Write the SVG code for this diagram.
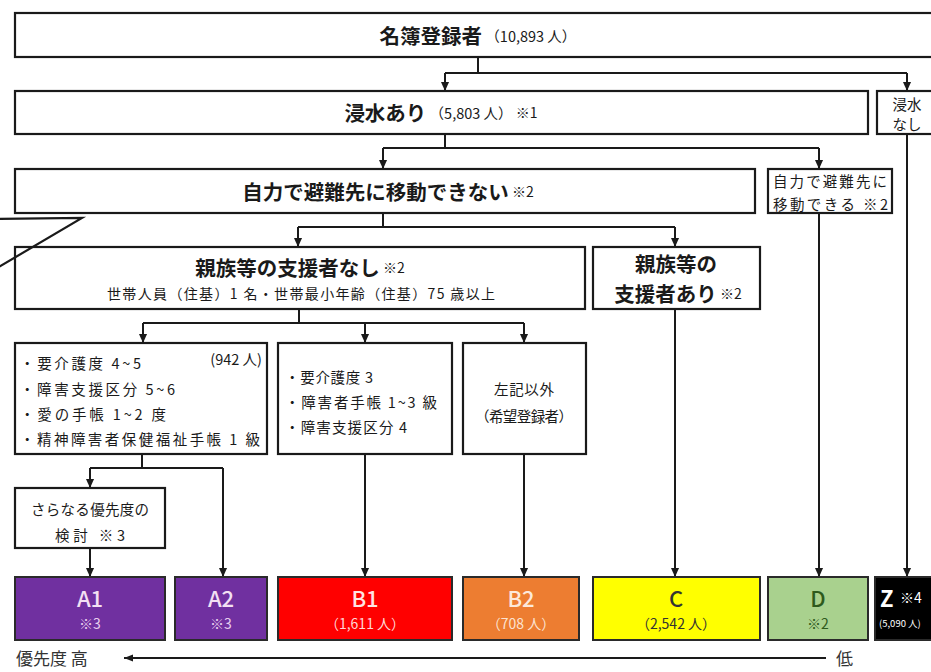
<svg xmlns="http://www.w3.org/2000/svg" width="931" height="672" viewBox="0 0 931 672">
<style>
text{font-family:"Noto Sans CJK JP","Noto Sans",sans-serif;dominant-baseline:central;fill:#1a1a1a}
.box{fill:#fff;stroke:#1a1a1a;stroke-width:2.2}
.cbox{stroke:#2a2a2a;stroke-width:2}
.h{font-size:20.5px;font-weight:700}
.s{font-size:14.5px;font-weight:400}
.n{font-size:14.5px;font-weight:400}
.sm{font-size:14px;font-weight:400}
.lab{font-size:22px;font-weight:500}
.sub{font-size:14px;font-weight:400}
.con{fill:none;stroke:#1a1a1a;stroke-width:2}
.mid{text-anchor:middle}
</style>
<defs>
<marker id="ah" viewBox="0 0 10 10" refX="10" refY="5" markerWidth="9" markerHeight="9" markerUnits="userSpaceOnUse" orient="auto">
<path d="M0,0.5 L10,5 L0,9.5 z" fill="#1a1a1a"/>
</marker>
<marker id="ah2" viewBox="0 0 10 10" refX="10" refY="5" markerWidth="11" markerHeight="9" markerUnits="userSpaceOnUse" orient="auto">
<path d="M0,1 L10,5 L0,9 z" fill="#1a1a1a"/>
</marker>
</defs>
<rect width="931" height="672" fill="#fff"/>

<g id="connectors">
<path class="con" d="M478,57 V73 M445,73 H907"/>
<path class="con" d="M445,73 V91" marker-end="url(#ah)"/>
<path class="con" d="M907,73 V91" marker-end="url(#ah)"/>
<path class="con" d="M445,134 V148 M383,148 H819"/>
<path class="con" d="M383,148 V169" marker-end="url(#ah)"/>
<path class="con" d="M819,148 V169" marker-end="url(#ah)"/>
<path class="con" d="M907,134 V577" marker-end="url(#ah)"/>
<path class="con" d="M819,213 V577" marker-end="url(#ah)"/>
<path class="con" d="M383,213 V227 M298,227 H675"/>
<path class="con" d="M298,227 V247" marker-end="url(#ah)"/>
<path class="con" d="M675,227 V247" marker-end="url(#ah)"/>
<path class="con" d="M675,309 V577" marker-end="url(#ah)"/>
<path class="con" d="M299,309 V323 M143,323 H524"/>
<path class="con" d="M143,323 V343" marker-end="url(#ah)"/>
<path class="con" d="M365,323 V343" marker-end="url(#ah)"/>
<path class="con" d="M524,323 V343" marker-end="url(#ah)"/>
<path class="con" d="M142,454 V468 M90,468 H223"/>
<path class="con" d="M90,468 V488" marker-end="url(#ah)"/>
<path class="con" d="M223,468 V577" marker-end="url(#ah)"/>
<path class="con" d="M90,548 V577" marker-end="url(#ah)"/>
<path class="con" d="M365,454 V577" marker-end="url(#ah)"/>
<path class="con" d="M524,454 V577" marker-end="url(#ah)"/>
</g>

<g id="n-registered">
<rect class="box" x="15" y="13" width="940" height="44"/>
<text x="478" y="35" class="mid"><tspan class="h">名簿登録者</tspan><tspan class="s"> （10,893 人）</tspan></text>
</g>
<g id="n-flood">
<rect class="box" x="15" y="91" width="853" height="43"/>
<text x="441" y="112" class="mid"><tspan class="h">浸水あり</tspan><tspan class="s"> （5,803 人） </tspan><tspan class="sm">※1</tspan></text>
</g>
<g id="n-noflood">
<rect class="box" x="877" y="91" width="70" height="43"/>
<text x="907" y="103" class="mid n">浸水</text>
<text x="907" y="123" class="mid n">なし</text>
</g>
<g id="n-cannot">
<rect class="box" x="15" y="169" width="740" height="44"/>
<text x="388" y="191" class="mid"><tspan class="h">自力で避難先に移動できない</tspan><tspan class="sm">  ※2</tspan></text>
</g>
<g id="n-can">
<rect class="box" x="768" y="169" width="124" height="44"/>
<text x="773" y="180" class="n" textLength="114" lengthAdjust="spacing">自力で避難先に</text>
<text x="773" y="203" class="n" textLength="115" lengthAdjust="spacing">移動できる ※2</text>
</g>
<g id="n-nosupport">
<rect class="box" x="15" y="247" width="570" height="62"/>
<text x="300" y="267" class="mid"><tspan class="h">親族等の支援者なし</tspan><tspan class="sm">  ※2</tspan></text>
<text x="107" y="293" class="sm" textLength="388" lengthAdjust="spacing">世帯人員（住基）1 名・世帯最小年齢（住基）75 歳以上</text>
</g>
<g id="n-support">
<rect class="box" x="593" y="247" width="167" height="62"/>
<text x="676" y="263" class="mid h">親族等の</text>
<text x="678" y="293" class="mid"><tspan class="h">支援者あり</tspan><tspan class="sm">  ※2</tspan></text>
</g>
<g id="n-groupA">
<rect class="box" x="15" y="343" width="252" height="111"/>
<text x="20" y="362" class="n" textLength="121" lengthAdjust="spacing">・要介護度 4~5</text>
<text x="262" y="358" class="n" style="text-anchor:end">(942 人)</text>
<text x="20" y="388" class="n" textLength="155" lengthAdjust="spacing">・障害支援区分 5~6</text>
<text x="20" y="413" class="n" textLength="146" lengthAdjust="spacing">・愛の手帳 1~2 度</text>
<text x="20" y="438" class="n" textLength="240" lengthAdjust="spacing">・精神障害者保健福祉手帳 1 級</text>
</g>
<g id="n-groupB">
<rect class="box" x="278" y="343" width="174" height="111"/>
<text x="285" y="376" class="n" textLength="88" lengthAdjust="spacing">・要介護度 3</text>
<text x="285" y="401" class="n" textLength="152" lengthAdjust="spacing">・障害者手帳 1~3 級</text>
<text x="285" y="426" class="n" textLength="122" lengthAdjust="spacing">・障害支援区分 4</text>
</g>
<g id="n-other">
<rect class="box" x="463" y="343" width="123" height="111"/>
<text x="524" y="388" class="mid n" textLength="60" lengthAdjust="spacing">左記以外</text>
<text x="524" y="415" class="mid n" textLength="98" lengthAdjust="spacing">（希望登録者）</text>
</g>
<g id="n-further">
<rect class="box" x="15" y="488" width="150" height="60"/>
<text x="90" y="508" class="mid n" textLength="118" lengthAdjust="spacing">さらなる優先度の</text>
<text x="90" y="534" class="mid n" textLength="70" lengthAdjust="spacing">検討 ※3</text>
</g>

<g id="n-A1">
<rect class="cbox" x="15" y="577" width="150" height="63" fill="#7030A0"/>
<text x="90" y="597" class="mid lab" style="fill:#F3E0F3">A1</text>
<text x="90" y="623" class="mid sub" style="fill:#E8CFEE">※3</text>
</g>
<g id="n-A2">
<rect class="cbox" x="175" y="577" width="92" height="63" fill="#7030A0"/>
<text x="221" y="597" class="mid lab" style="fill:#F3E0F3">A2</text>
<text x="221" y="623" class="mid sub" style="fill:#E8CFEE">※3</text>
</g>
<g id="n-B1">
<rect class="cbox" x="278" y="577" width="174" height="63" fill="#FF0000"/>
<text x="365" y="597" class="mid lab" style="fill:#FFE3E3">B1</text>
<text x="365" y="623" class="mid sub" style="fill:#FFD6D6">（1,611 人）</text>
</g>
<g id="n-B2">
<rect class="cbox" x="463" y="577" width="116" height="63" fill="#ED7D31"/>
<text x="521" y="597" class="mid lab" style="fill:#FDE9DA">B2</text>
<text x="521" y="623" class="mid sub" style="fill:#FCE2D0">（708 人）</text>
</g>
<g id="n-C">
<rect class="cbox" x="593" y="577" width="167" height="63" fill="#FFFF00"/>
<text x="676" y="597" class="mid lab" style="fill:#333">C</text>
<text x="676" y="623" class="mid sub" style="fill:#333">（2,542 人）</text>
</g>
<g id="n-D">
<rect class="cbox" x="768" y="577" width="100" height="63" fill="#A9D18E"/>
<text x="818" y="597" class="mid lab" style="fill:#2E5A1C">D</text>
<text x="818" y="623" class="mid sub" style="fill:#2E5A1C">※2</text>
</g>
<g id="n-Z">
<rect class="cbox" x="875" y="577" width="70" height="63" fill="#000"/>
<text x="880" y="597" class="lab" style="fill:#fff;font-weight:700">Z</text>
<text x="900" y="597" class="sub" style="fill:#fff">※4</text>
<text x="879" y="623" style="fill:#fff;font-size:9.5px">(5,090 人)</text>
</g>

<g id="callout">
<polyline points="-3,219 82,218 -3,268" fill="none" stroke="#1a1a1a" stroke-width="2.2"/>
</g>

<g id="priority">
<text x="16" y="657" style="font-size:17px;fill:#333">優先度 高</text>
<line x1="826" y1="658" x2="124" y2="658" stroke="#1a1a1a" stroke-width="1.8" marker-end="url(#ah2)"/>
<text x="836" y="657" style="font-size:17px;fill:#333">低</text>
</g>
</svg>
